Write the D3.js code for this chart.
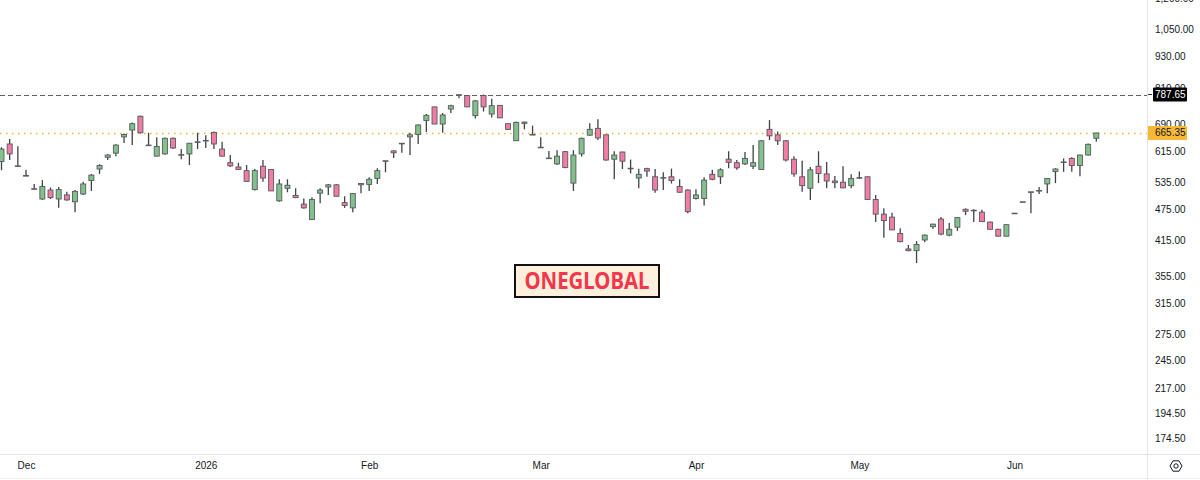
<!DOCTYPE html>
<html>
<head>
<meta charset="utf-8">
<script src="https://cdn.jsdelivr.net/npm/d3@7"></script>
<style>
  body { margin: 0; background: #ffffff; }
  svg { display: block; font-family: "Liberation Sans", Arial, sans-serif; }
</style>
</head>
<body>
<script>
/* ---------------------------- */
/* DATA                         */
/* ---------------------------- */

// Daily candles, one entry per trading day (late Nov 2025 -> mid Jun 2026)
const opens = [
  587, 634, 576, 552, 521, 498, 518, 498, 507, 492,
  509, 540, 568, 598, 609, 654, 674, 716, 631, 601,
  607, 650, 605, 607, 640, 644, 667, 620, 584, 573,
  564, 519, 575, 567, 494, 522, 506, 487, 455, 511,
  525, 530, 490, 479, 533, 531, 545, 589, 615, 636,
  654, 661, 703, 746, 692, 739, 786, 784, 718, 784,
  723, 751, 693, 643, 694, 661, 625, 596, 581, 613,
  534, 607, 659, 679, 660, 593, 612, 570, 546, 569,
  549, 547, 549, 526, 518, 499, 499, 555, 549, 593,
  584, 581, 575, 567, 676, 660, 643, 593, 549, 522,
  575, 556, 539, 536, 528, 547, 549, 497, 466, 460,
  428, 400, 397, 416, 441, 456, 425, 440, 476, 474,
  470, 450, 436, 423, 468, 492, 514, 517, 532, 562,
  586, 595, 577, 604, 650
];
const highs = [
  625, 648, 628, 566, 532, 541, 524, 525, 514, 518,
  537, 556, 580, 606, 633, 664, 697, 718, 666, 653,
  652, 652, 620, 637, 666, 659, 670, 640, 604, 584,
  578, 568, 591, 567, 543, 543, 522, 499, 502, 522,
  532, 532, 504, 511, 533, 548, 570, 589, 617, 637,
  666, 691, 723, 747, 726, 753, 787, 786, 769, 787.65,
  773, 752, 693, 700, 699, 687, 653, 615, 617, 615,
  617, 652, 694, 707, 661, 614, 613, 592, 569, 571,
  568, 560, 569, 543, 520, 520, 548, 566, 570, 614,
  591, 612, 631, 645, 704, 670, 645, 601, 589, 573,
  614, 586, 551, 575, 555, 562, 550, 507, 478, 469,
  438, 407, 414, 426, 447, 460, 448, 460, 478, 476,
  475, 451, 437, 445, 468, 492, 514, 525, 546, 570,
  595, 598, 605, 635, 666
];
const lows = [
  565, 591, 575, 551, 520, 496, 498, 479, 494, 470,
  507, 516, 556, 591, 601, 637, 631, 664, 631, 601,
  605, 620, 593, 578, 620, 623, 620, 600, 573, 566,
  538, 517, 537, 516, 492, 513, 500, 477, 454, 489,
  507, 504, 479, 470, 511, 516, 532, 560, 596, 610,
  604, 634, 668, 692, 666, 726, 775, 746, 709, 731,
  712, 711, 675, 642, 676, 661, 625, 596, 578, 570,
  516, 600, 657, 645, 589, 543, 568, 557, 522, 549,
  512, 518, 533, 512, 468, 497, 484, 541, 532, 570,
  566, 578, 568, 567, 645, 631, 587, 549, 514, 496,
  534, 522, 522, 522, 522, 544, 496, 450, 420, 434,
  412, 396, 376, 412, 437, 425, 423, 433, 464, 450,
  450, 436, 423, 423, 468, 492, 468, 509, 511, 534,
  561, 561, 550, 603, 640
];
const closes = [
  620, 607, 575, 551, 520, 526, 501, 519, 496, 515,
  532, 553, 577, 604, 631, 661, 693, 666, 631, 627,
  650, 623, 604, 636, 640, 644, 634, 601, 576, 567,
  538, 564, 546, 516, 532, 529, 501, 479, 497, 518,
  530, 504, 484, 510, 530, 543, 564, 589, 610, 636,
  660, 689, 719, 692, 720, 750, 787, 746, 766, 746,
  750, 711, 676, 697, 698, 661, 625, 596, 601, 572,
  604, 650, 676, 651, 591, 604, 588, 570, 555, 563,
  518, 547, 540, 513, 471, 507, 541, 543, 566, 585,
  571, 595, 584, 643, 657, 643, 591, 556, 528, 566,
  557, 539, 535, 523, 545, 547, 497, 466, 453, 435,
  413, 397, 408, 425, 446, 427, 436, 459, 472, 474,
  451, 436, 423, 445, 468, 492, 514, 517, 545, 568,
  586, 577, 604, 633, 665.35
];

// Time axis: label text and the index of the first candle of that month
const monthLabels = ["Dec", "2026", "Feb", "Mar", "Apr", "May", "Jun"];
const monthStarts = [3, 25, 45, 66, 85, 105, 124];

// Price axis labels (log scale)
const priceTicks = [1200, 1050, 930, 810, 690, 615, 535, 475, 415, 355, 315, 275, 245, 217, 194.5, 174.5];

const symbol = "ONEGLOBAL";

/* ---------------------------- */
/* LAYOUT                       */
/* ---------------------------- */

const w = 1200;
const h = 480;
const plotRight = 1147; // separator between candles and price axis
const plotBottom = 454; // line above the time axis

let candles = opens.map((o, i) => ({i: i, open: o, high: highs[i], low: lows[i], close: closes[i]}));

const lastClose = closes[closes.length - 1];
const topHigh = d3.max(highs);

const fmt = d3.format(",.2f");

// Scales
let x = d3.scaleLinear()
    .domain([0, candles.length - 1])
    .range([1.5, 1096.3]);

let y = d3.scaleLog()
    .domain([174.5, 1050])
    .range([438, 29]);

const green = "#83c08b";
const pink = "#f27ca3";
const edge = "#555a60";

/* ---------------------------- */
/* CANVAS                       */
/* ---------------------------- */

let svg = d3.select("body")
    .append("svg")
        .attr("width", w)
        .attr("height", h);

let plot = svg.append("g");
plot.append("clipPath").attr("id", "clip")
    .append("rect").attr("x", 0).attr("y", 0).attr("width", plotRight).attr("height", plotBottom);

let inner = plot.append("g").attr("clip-path", "url(#clip)");

// Max high reference (dashed) and last close (dotted)
inner.append("line")
    .attr("x1", 0).attr("x2", plotRight)
    .attr("y1", Math.round(y(topHigh)) + 0.5).attr("y2", Math.round(y(topHigh)) + 0.5)
    .attr("stroke", "#5d5d5d")
    .attr("stroke-width", 1)
    .attr("stroke-dasharray", "5,3");

inner.append("line")
    .attr("x1", 0).attr("x2", plotRight)
    .attr("y1", Math.round(y(lastClose)) + 0.5).attr("y2", Math.round(y(lastClose)) + 0.5)
    .attr("stroke", "#f5b22d")
    .attr("stroke-width", 1.5)
    .attr("stroke-dasharray", "1.5,4.5");

// Candles
let c = inner.selectAll("g.candle")
    .data(candles)
    .enter()
    .append("g")
        .attr("class", "candle");

c.append("line")
    .attr("x1", (d) => x(d.i)).attr("x2", (d) => x(d.i))
    .attr("y1", (d) => y(d.high)).attr("y2", (d) => y(d.low))
    .attr("stroke", "#3f4246")
    .attr("stroke-width", 1.3);

c.append("rect")
    .attr("x", (d) => x(d.i) - 2.5)
    .attr("width", 5)
    .attr("y", (d) => y(Math.max(d.open, d.close)))
    .attr("height", (d) => Math.max(0.6, y(Math.min(d.open, d.close)) - y(Math.max(d.open, d.close))))
    .attr("fill", (d) => d.close >= d.open ? green : pink)
    .attr("stroke", edge)
    .attr("stroke-width", 0.9);

// Symbol watermark box
let tag = svg.append("g").attr("transform", "translate(587, 281)");
tag.append("rect")
    .attr("x", -72).attr("y", -16)
    .attr("width", 144).attr("height", 32)
    .attr("fill", "#fff0dd")
    .attr("stroke", "#111")
    .attr("stroke-width", 2);
tag.append("text")
    .attr("text-anchor", "middle")
    .attr("dy", "0.36em")
    .attr("fill", "#f2364c")
    .style("font-family", "'Noto Sans', sans-serif")
    .style("font-weight", "bold")
    .style("font-size", "23px")
    .attr("textLength", 125)
    .attr("lengthAdjust", "spacingAndGlyphs")
    .text(symbol);

/* ---------------------------- */
/* AXES                         */
/* ---------------------------- */

// Frame lines
svg.append("line")
    .attr("x1", plotRight + 0.5).attr("x2", plotRight + 0.5)
    .attr("y1", 0).attr("y2", h)
    .attr("stroke", "#e0e3eb");
svg.append("line")
    .attr("x1", 0).attr("x2", w)
    .attr("y1", plotBottom + 0.5).attr("y2", plotBottom + 0.5)
    .attr("stroke", "#e0e3eb");
svg.append("line")
    .attr("x1", 0).attr("x2", w)
    .attr("y1", 478.5).attr("y2", 478.5)
    .attr("stroke", "#eceef2");

// Price axis
let yAxis = svg.append("g")
    .attr("transform", "translate(" + (plotRight + 8) + ",0)")
    .call(d3.axisRight(y).tickValues(priceTicks).tickFormat(fmt).tickSize(0).tickPadding(0));
yAxis.select(".domain").remove();
yAxis.selectAll("text")
    .attr("fill", "#131722")
    .style("font-size", "10px")
    .style("font-family", "'Liberation Sans', Arial, sans-serif");

// Time axis
let xAxis = svg.append("g")
    .attr("transform", "translate(0," + plotBottom + ")")
    .call(d3.axisBottom(x)
        .tickValues(monthStarts)
        .tickFormat((d, i) => monthLabels[i])
        .tickSize(0)
        .tickPadding(8));
xAxis.select(".domain").remove();
xAxis.selectAll("text")
    .attr("fill", "#131722")
    .style("font-size", "10px")
    .style("font-family", "'Liberation Sans', Arial, sans-serif");

// Price labels on the axis
function priceTag(value, bg, fg, left) {
    let g = svg.append("g").attr("transform", "translate(0," + y(value) + ")");
    g.append("rect")
        .attr("x", left).attr("y", -7)
        .attr("width", 1187 - left).attr("height", 14)
        .attr("rx", 1)
        .attr("fill", bg);
    g.append("text")
        .attr("x", 1155)
        .attr("dy", "0.35em")
        .attr("fill", fg)
        .style("font-size", "10px")
        .text(value.toFixed(2));
}
svg.append("line")
    .attr("x1", plotRight + 1).attr("x2", plotRight + 5)
    .attr("y1", y(topHigh)).attr("y2", y(topHigh))
    .attr("stroke", "#333");
priceTag(topHigh, "#000000", "#ffffff", 1153);
priceTag(lastClose, "#f7b836", "#131722", 1148);

// Settings icon in the corner
let icon = svg.append("g").attr("transform", "translate(1176,466)");
icon.append("path")
    .attr("d", d3.range(6).map((k) => {
        let a = Math.PI / 3 * k;
        return (k ? "L" : "M") + (6 * Math.cos(a)).toFixed(2) + "," + (6 * Math.sin(a)).toFixed(2);
    }).join("") + "Z")
    .attr("fill", "none")
    .attr("stroke", "#131722")
    .attr("stroke-width", 1);
icon.append("circle")
    .attr("r", 2.2)
    .attr("fill", "none")
    .attr("stroke", "#131722")
    .attr("stroke-width", 1);
</script>
</body>
</html>
